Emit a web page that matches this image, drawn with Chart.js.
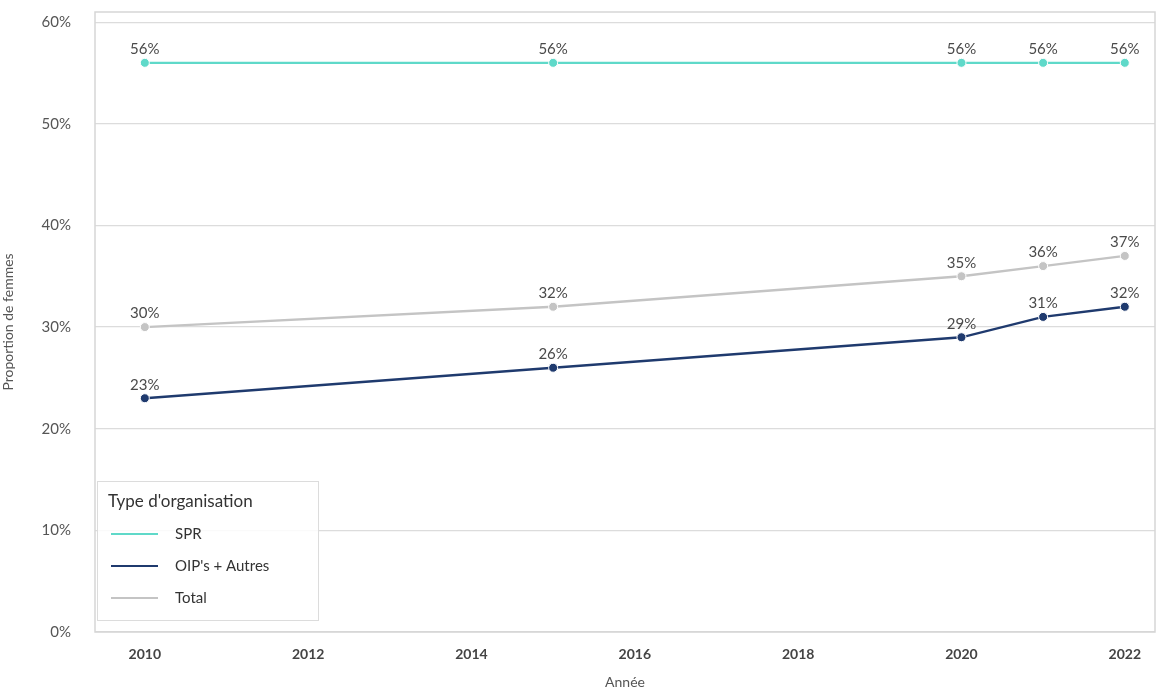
<!DOCTYPE html>
<html><head><meta charset="utf-8">
<script src="https://cdn.jsdelivr.net/npm/chart.js@4"></script>
<style>html,body{margin:0;padding:0;background:#fff}#w{width:1167px;height:691px}</style>
</head><body><div id="w"><canvas id="c"></canvas></div>
<script>
const years = [2010, 2015, 2020, 2021, 2022];
const spr = [0.56, 0.56, 0.56, 0.56, 0.56];
const oip = [0.23, 0.26, 0.29, 0.31, 0.32];
const total = [0.30, 0.32, 0.35, 0.36, 0.37];
const seriesNames = ["SPR", "OIP's + Autres", "Total"];
const seriesColors = ["#5fd9c9", "#1f3a6e", "#c4c4c4"];
const xTicks = [2010, 2012, 2014, 2016, 2018, 2020, 2022];
const yTicks = [0, 0.1, 0.2, 0.3, 0.4, 0.5, 0.6];
const legendTitle = "Type d'organisation";
const FONT = "Lato, 'Open Sans', sans-serif";

function mk(vals){ return years.map((y,i)=>({x:y,y:vals[i]})); }
const allSeries = [spr, oip, total];

const labelPlugin = {
  id:'labels',
  beforeDraw(chart){
    const ctx = chart.ctx;
    ctx.save();
    ctx.fillStyle='#fff'; ctx.fillRect(0,0,chart.width,chart.height);
    ctx.restore();
  },
  afterDraw(chart){
    const ctx = chart.ctx, a = chart.chartArea;
    ctx.save();
    ctx.strokeStyle='#d6d6d6'; ctx.lineWidth=1.5;
    ctx.strokeRect(a.left, a.top, a.right-a.left, a.bottom-a.top);
    ctx.font = "15px " + FONT;
    ctx.fillStyle = '#4a4a4a';
    ctx.textAlign='center'; ctx.textBaseline='bottom';
    chart.data.datasets.forEach((ds,di)=>{
      const meta = chart.getDatasetMeta(di);
      meta.data.forEach((pt,i)=>{
        ctx.fillText(Math.round(ds.data[i].y*100)+'%', pt.x, pt.y-6);
      });
    });
    const lx=97, ly=481, lw=221, lh=139;
    ctx.fillStyle='rgba(255,255,255,0.85)';
    ctx.fillRect(lx,ly,lw,lh);
    ctx.strokeStyle='#dcdcdc'; ctx.lineWidth=1;
    ctx.strokeRect(lx+0.5,ly+0.5,lw,lh);
    ctx.fillStyle='#333'; ctx.textAlign='left'; ctx.textBaseline='middle';
    ctx.font = "17px " + FONT;
    ctx.fillText(legendTitle, lx+11, ly+21);
    ctx.font = "15px " + FONT;
    seriesNames.forEach((n,i)=>{
      const yy = ly+53+i*32;
      ctx.strokeStyle=seriesColors[i]; ctx.lineWidth=2;
      ctx.beginPath(); ctx.moveTo(lx+14,yy); ctx.lineTo(lx+61,yy); ctx.stroke();
      ctx.fillStyle='#333';
      ctx.fillText(n, lx+78, yy);
    });
    ctx.restore();
  }
};

new Chart(document.getElementById('c'), {
  type:'line',
  data:{datasets: allSeries.map((s,i)=>({
    label: seriesNames[i], data: mk(s),
    borderColor: seriesColors[i], backgroundColor: seriesColors[i],
    pointBackgroundColor: seriesColors[i], pointBorderColor:'#fff', pointBorderWidth:1,
    borderWidth: 2.3, pointRadius: 4.5, tension:0
  })).reverse()},
  options:{
    responsive:true, maintainAspectRatio:false, animation:false,
    layout:{padding:{top:12,right:12,left:0,bottom:0}},
    plugins:{legend:{display:false}, tooltip:{enabled:false}},
    scales:{
      x:{type:'linear', min:2009.39, max:2022.37,
        afterBuildTicks(s){ s.ticks = xTicks.map(v=>({value:v})); },
        afterFit(s){ s.height = 59; s.paddingLeft = 0; s.paddingRight = 0; },
        grid:{display:false, drawTicks:false}, border:{display:false},
        ticks:{color:'#444', font:{family:FONT, size:14, weight:'bold'}, padding:14, maxRotation:0,
          callback:v=>String(v)},
        title:{display:true, text:'Année', color:'#555', font:{family:FONT,size:14}, padding:{top:2,bottom:0}}
      },
      y:{min:0, max:0.61,
        afterBuildTicks(s){ s.ticks = yTicks.map(v=>({value:v})); },
        afterFit(s){ s.width = 95; s.paddingTop = 0; s.paddingBottom = 0; },
        grid:{color:'#dcdcdc', lineWidth:1.2, drawTicks:false}, border:{display:false},
        ticks:{color:'#555', font:{family:FONT,size:15}, padding:24,
          callback:v=>Math.round(v*100)+'%'},
        title:{display:true, text:'Proportion de femmes', color:'#555', font:{family:FONT,size:14}, padding:{top:0,bottom:4}}
      }
    }
  },
  plugins:[labelPlugin]
});
</script></body></html>
